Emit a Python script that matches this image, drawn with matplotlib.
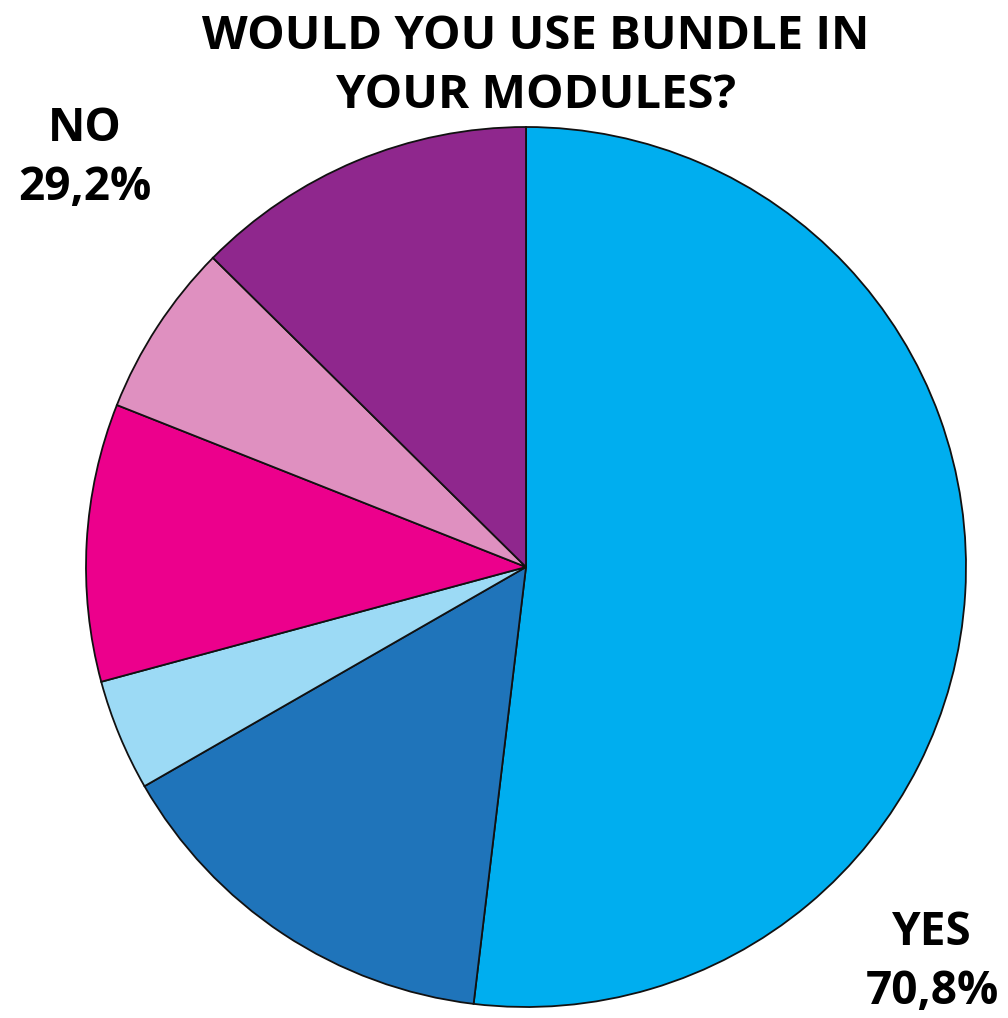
import matplotlib
matplotlib.use("Agg")
import matplotlib.pyplot as plt

# slice shares (percent), clockwise from 12 o'clock
shares = [51.9, 14.8, 4.1, 10.2, 6.4, 12.6]
colors = ["#00aeef", "#1f74ba", "#9cdaf5", "#ec008c", "#df90c0", "#8f278d"]
title = "WOULD YOU USE BUNDLE IN\nYOUR MODULES?"
yes_label = "YES\n70,8%"
no_label = "NO\n29,2%"

plt.rcParams["font.family"] = ["Open Sans", "DejaVu Sans"]

W, H = 1008, 1018
fig = plt.figure(figsize=(W / 100, H / 100), dpi=100)

# pie centre and radius in pixels
cx, cy, r = 526, 567, 440
ax = fig.add_axes([(cx - r) / W, (H - cy - r) / H, 2 * r / W, 2 * r / H])
ax.pie(shares, colors=colors, startangle=90, counterclock=False,
       wedgeprops=dict(edgecolor="#111111", linewidth=1.3))
ax.set_xlim(-1, 1)
ax.set_ylim(-1, 1)
ax.set_aspect("equal")
ax.axis("off")

fig.text(536 / W, 1 - 66 / H, title, ha="center", va="center",
         fontsize=34, fontweight="bold", linespacing=1.35)
fig.text(85 / W, 1 - 158 / H, no_label, ha="center", va="center",
         fontsize=33, fontweight="bold", linespacing=1.36)
fig.text(932 / W, 1 - 962 / H, yes_label, ha="center", va="center",
         fontsize=33, fontweight="bold", linespacing=1.36)

fig.savefig("out.png", dpi=100)
